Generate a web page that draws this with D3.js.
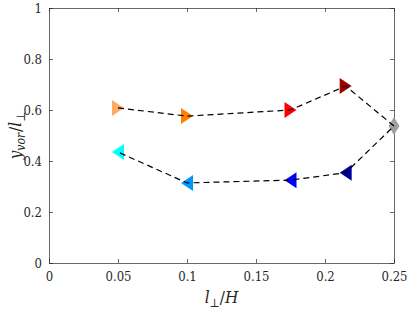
<!DOCTYPE html>
<html>
<head>
<meta charset="utf-8">
<script src="https://cdn.jsdelivr.net/npm/d3@7"></script>
<style>
  body { margin: 0; background: #fff; }
</style>
</head>
<body>
<script>
const w = 407;
const h = 310;
const margin = {left: 49, right: 13, top: 8, bottom: 47};
const serif = "DejaVu Serif Condensed, DejaVu Serif, serif";

// upper branch (right-pointing), lower branch (left-pointing), joined at the diamond
const upperX = [0.05, 0.1, 0.175, 0.215];
const upperY = [0.608, 0.576, 0.600, 0.694];
const upperColors = ["#ffab66", "#ff8000", "#ff0000", "#a00000"];
const lowerX = [0.05, 0.1, 0.175, 0.215];
const lowerY = [0.435, 0.314, 0.325, 0.354];
const lowerColors = ["#00ffff", "#0099ff", "#0000ff", "#000099"];
const joinX = 0.25;
const joinY = 0.537;
const joinColor = "#a0a0a0";
const xTicks = [0, 0.05, 0.1, 0.15, 0.2, 0.25];
const yTicks = [0, 0.2, 0.4, 0.6, 0.8, 1];

const xScale = d3.scaleLinear()
                 .domain([0, 0.25])
                 .range([margin.left, w - margin.right]);

const yScale = d3.scaleLinear()
                 .domain([0, 1])
                 .range([h - margin.bottom, margin.top]);

const svg = d3.select("body")
              .append("svg")
              .attr("width", w)
              .attr("height", h);

const axisColor = "#262626";
const tickLen = 4;
const fmt = d => String(+d.toFixed(2));

const xAxis = d3.axisBottom(xScale).tickValues(xTicks).tickSizeInner(-tickLen).tickSizeOuter(0).tickPadding(9).tickFormat(fmt);
const xAxisTop = d3.axisTop(xScale).tickValues(xTicks).tickSizeInner(-tickLen).tickSizeOuter(0).tickFormat("");
const yAxis = d3.axisLeft(yScale).tickValues(yTicks).tickSizeInner(-tickLen).tickSizeOuter(0).tickPadding(7).tickFormat(fmt);
const yAxisRight = d3.axisRight(yScale).tickValues(yTicks).tickSizeInner(-tickLen).tickSizeOuter(0).tickFormat("");

const gx = svg.append("g").attr("transform", "translate(0," + (h - margin.bottom) + ")").call(xAxis);
const gxt = svg.append("g").attr("transform", "translate(0," + margin.top + ")").call(xAxisTop);
const gy = svg.append("g").attr("transform", "translate(" + margin.left + ",0)").call(yAxis);
const gyr = svg.append("g").attr("transform", "translate(" + (w - margin.right) + ",0)").call(yAxisRight);

[gx, gxt, gy, gyr].forEach(g => {
  g.attr("font-family", null).attr("font-size", null);
  g.selectAll("path, line").attr("stroke", axisColor).attr("stroke-width", 0.7);
  g.selectAll("text").attr("fill", "#262626").style("font-family", serif).style("font-size", "13px");
});

// markers
const tri = (dir) => {
  const a = 6, b = 8;
  return dir > 0 ? `M${-a},${-b}L${a},0L${-a},${b}Z` : `M${a},${-b}L${-a},0L${a},${b}Z`;
};

const upper = upperX.map((x, i) => ({x: x, y: upperY[i], c: upperColors[i]}));
const lower = lowerX.map((x, i) => ({x: x, y: lowerY[i], c: lowerColors[i]}));

svg.selectAll(".up")
   .data(upper)
   .enter()
   .append("path")
   .attr("d", tri(1))
   .attr("transform", d => "translate(" + xScale(d.x) + "," + yScale(d.y) + ")")
   .attr("fill", d => d.c);

svg.selectAll(".lo")
   .data(lower)
   .enter()
   .append("path")
   .attr("d", tri(-1))
   .attr("transform", d => "translate(" + xScale(d.x) + "," + yScale(d.y) + ")")
   .attr("fill", d => d.c);

svg.append("path")
   .attr("d", "M0,-9L5.5,0L0,9L-5.5,0Z")
   .attr("transform", "translate(" + xScale(joinX) + "," + yScale(joinY) + ")")
   .attr("fill", joinColor);

// dashed path through all points
const path = upper.concat([{x: joinX, y: joinY}], lower.slice().reverse());
const line = d3.line().x(d => xScale(d.x)).y(d => yScale(d.y));
svg.append("path")
   .datum(path)
   .attr("d", line)
   .attr("fill", "none")
   .attr("stroke", "#000")
   .attr("stroke-width", 1.2)
   .attr("stroke-dasharray", "6,4");

// axis labels
const xl = svg.append("text")
   .attr("x", (margin.left + w - margin.right) / 2)
   .attr("y", 303)
   .attr("text-anchor", "middle")
   .style("font-family", serif)
   .style("font-size", "17px")
   .style("font-style", "italic")
   .attr("fill", "#262626");
xl.append("tspan").text("l");
xl.append("tspan").attr("baseline-shift", "-30%").style("font-size", "12px").style("font-style", "normal").text("⊥");
xl.append("tspan").style("font-style", "normal").text("/");
xl.append("tspan").text("H");

const yl = svg.append("text")
   .attr("transform", "translate(21," + ((margin.top + h - margin.bottom) / 2) + ") rotate(-90)")
   .attr("text-anchor", "middle")
   .style("font-family", serif)
   .style("font-size", "17px")
   .style("font-style", "italic")
   .attr("fill", "#262626");
yl.append("tspan").text("y");
yl.append("tspan").attr("baseline-shift", "-30%").style("font-size", "12px").text("vor");
yl.append("tspan").attr("baseline-shift", "0%").attr("dx", 1).style("font-style", "normal").text("/");
yl.append("tspan").text("l");
yl.append("tspan").attr("baseline-shift", "-30%").style("font-size", "12px").style("font-style", "normal").text("⊥");
</script>
</body>
</html>
